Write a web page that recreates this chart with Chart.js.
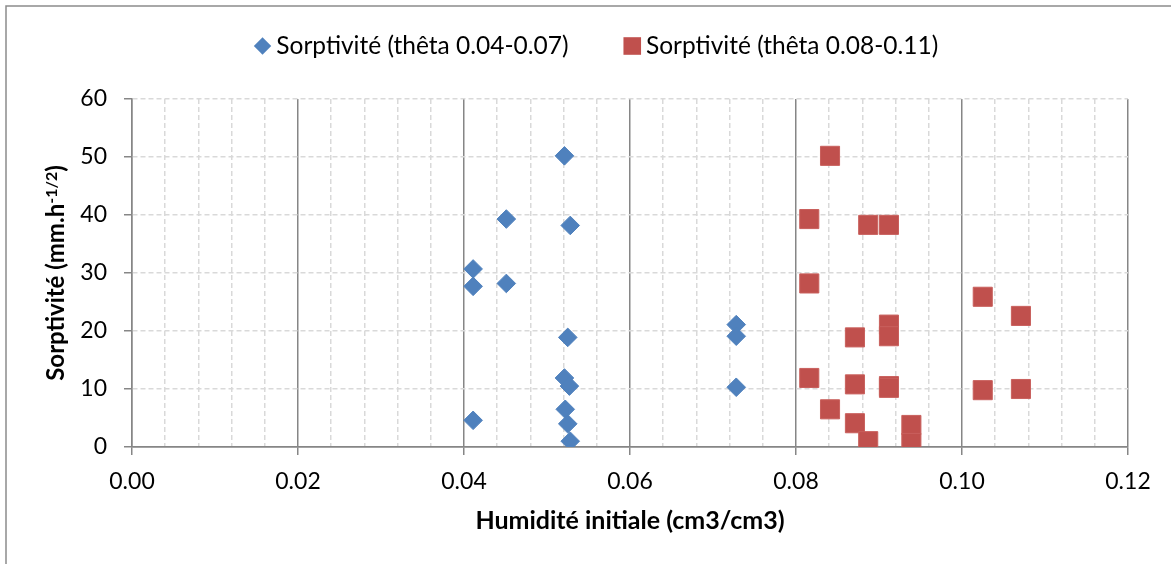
<!DOCTYPE html>
<html>
<head>
<meta charset="utf-8">
<title>Sorptivité</title>
<script src="https://cdn.jsdelivr.net/npm/chart.js@4.4.1/dist/chart.umd.min.js"></script>
<style>
  html, body { margin: 0; padding: 0; background: #fff; }
  canvas { display: block; }
</style>
</head>
<body>
<canvas id="sorptivityChart" width="1171" height="564"></canvas>
<script>
// Humidité initiale (cm3/cm3) and sorptivité (mm.h-1/2), two theta classes
const theta1Humidite = [0.0521, 0.0451, 0.0528, 0.0411, 0.0411, 0.0451, 0.0525, 0.0521, 0.0527, 0.0522, 0.0525, 0.0528, 0.0411, 0.0728, 0.0728, 0.0728];
const theta1Sorptivite = [50.2, 39.3, 38.2, 30.7, 27.7, 28.2, 18.9, 11.9, 10.5, 6.5, 4.0, 1.0, 4.6, 21.1, 19.1, 10.3];

const theta2Humidite = [0.0841, 0.0816, 0.0887, 0.0912, 0.0816, 0.1025, 0.1071, 0.0912, 0.0912, 0.0871, 0.0816, 0.0871, 0.0912, 0.0912, 0.1025, 0.1071, 0.0841, 0.0871, 0.0887, 0.0939, 0.0939];
const theta2Sorptivite = [50.2, 39.3, 38.3, 38.3, 28.2, 25.9, 22.6, 21.1, 19.1, 18.9, 11.9, 10.8, 10.5, 10.2, 9.8, 10.0, 6.5, 4.1, 1.0, 3.8, 0.7];

const seriesLabels = ['Sorptivité (thêta 0.04-0.07)', 'Sorptivité (thêta 0.08-0.11)'];
const xTickLabels = ['0.00', '0.02', '0.04', '0.06', '0.08', '0.10', '0.12'];
const yTickLabels = ['0', '10', '20', '30', '40', '50', '60'];

const axisGray = '#868686';
const dashGray = '#d9d9d9';
const FONT = 'Lato, "Open Sans", sans-serif';

Chart.defaults.font.family = FONT;
Chart.defaults.color = '#000';

const toPoints = (xs, ys) => xs.map((x, i) => ({ x: x, y: ys[i] }));
const isMajorX = v => Math.abs(v / 0.02 - Math.round(v / 0.02)) < 1e-6;

// outer frame (top and left edges only)
const frame = {
  id: 'frame',
  beforeDraw(chart) {
    const ctx = chart.ctx;
    ctx.save();
    ctx.strokeStyle = '#8c8c8c';
    ctx.lineWidth = 1.5;
    ctx.beginPath();
    ctx.moveTo(6, chart.height);
    ctx.lineTo(6, 6);
    ctx.lineTo(chart.width, 6);
    ctx.stroke();
    ctx.restore();
  }
};

// legend row with diamond / square markers
const legendRow = {
  id: 'legendRow',
  afterDraw(chart) {
    const ctx = chart.ctx;
    const markerW = 17.5, gap = 5, spacing = 55, cy = 46;
    ctx.save();
    ctx.font = '24.5px ' + FONT;
    ctx.textBaseline = 'middle';
    const items = chart.data.datasets.map(ds => ({ ds: ds, w: ctx.measureText(ds.label).width }));
    const total = items.reduce((s, it) => s + markerW + gap + it.w, 0) + spacing * (items.length - 1);
    let x = 596 - total / 2;
    items.forEach(it => {
      const cx = x + markerW / 2;
      ctx.fillStyle = it.ds.backgroundColor;
      ctx.beginPath();
      if (it.ds.pointStyle === 'rectRot') {
        const r = 8.7;
        ctx.moveTo(cx, cy - r);
        ctx.lineTo(cx + r, cy);
        ctx.lineTo(cx, cy + r);
        ctx.lineTo(cx - r, cy);
        ctx.closePath();
      } else {
        ctx.rect(cx - 8.8, cy - 8.8, 17.6, 17.6);
      }
      ctx.fill();
      ctx.fillStyle = '#000';
      ctx.fillText(it.ds.label, x + markerW + gap, cy);
      x += markerW + gap + it.w + spacing;
    });
    ctx.restore();
  }
};

// y axis title with superscript exponent
const yTitle = {
  id: 'yTitle',
  afterDraw(chart) {
    const { ctx, chartArea } = chart;
    const main = 'Sorptivité (mm.h', sup = '-1/2', end = ')';
    const bold = 'bold 24px ' + FONT, small = 'bold 16px ' + FONT;
    ctx.save();
    ctx.translate(56, (chartArea.top + chartArea.bottom) / 2);
    ctx.rotate(-Math.PI / 2);
    ctx.fillStyle = '#000';
    ctx.textBaseline = 'alphabetic';
    ctx.font = bold;
    const w1 = ctx.measureText(main).width, w3 = ctx.measureText(end).width;
    ctx.font = small;
    const w2 = ctx.measureText(sup).width;
    let x = -(w1 + w2 + w3) / 2;
    ctx.font = bold;
    ctx.fillText(main, x, 8);
    x += w1;
    ctx.font = small;
    ctx.fillText(sup, x, 1);
    x += w2;
    ctx.font = bold;
    ctx.fillText(end, x, 8);
    ctx.restore();
  }
};

const ctx = document.getElementById('sorptivityChart').getContext('2d');
new Chart(ctx, {
  type: 'scatter',
  data: {
    datasets: [{
      label: seriesLabels[0],
      data: toPoints(theta1Humidite, theta1Sorptivite),
      pointStyle: 'rectRot',
      pointRadius: 9.3,
      backgroundColor: '#4f81bd',
      borderColor: '#4f81bd',
      borderWidth: 1
    }, {
      label: seriesLabels[1],
      data: toPoints(theta2Humidite, theta2Sorptivite),
      pointStyle: 'rect',
      pointRadius: 13.5,
      backgroundColor: '#c0504d',
      borderColor: '#c9605d',
      borderWidth: 1
    }]
  },
  options: {
    responsive: false,
    animation: false,
    events: [],
    layout: { padding: { top: 99, right: 43, bottom: 0, left: 0 } },
    plugins: {
      legend: { display: false },
      tooltip: { enabled: false }
    },
    scales: {
      x: {
        type: 'linear',
        min: 0,
        max: 0.12,
        afterFit: s => { s.height = 117; },
        ticks: {
          stepSize: 0.004,
          autoSkip: false,
          maxRotation: 0,
          padding: 13,
          font: { size: 23 },
          callback: v => isMajorX(v) ? xTickLabels[Math.round(v / 0.02)] : ''
        },
        grid: {
          color: c => (c.tick && !isMajorX(c.tick.value)) ? dashGray : axisGray,
          tickColor: c => (c.tick && !isMajorX(c.tick.value)) ? 'rgba(0,0,0,0)' : axisGray,
          lineWidth: 1.5,
          tickWidth: 1.5,
          tickLength: 8
        },
        border: {
          color: axisGray,
          width: 1.5,
          dash: c => (c.tick && !isMajorX(c.tick.value)) ? [5, 3] : []
        },
        title: {
          display: true,
          text: 'Humidité initiale (cm3/cm3)',
          font: { size: 25, weight: 'bold' },
          padding: { top: 0, bottom: 28 }
        }
      },
      y: {
        min: 0,
        max: 60,
        afterFit: s => { s.width = 132; },
        ticks: {
          stepSize: 10,
          padding: 17,
          font: { size: 23 },
          callback: v => yTickLabels[Math.round(v / 10)]
        },
        grid: {
          color: c => (c.tick && c.tick.value !== 0) ? dashGray : axisGray,
          tickColor: axisGray,
          lineWidth: 1.5,
          tickWidth: 1.5,
          tickLength: 8
        },
        border: {
          color: axisGray,
          width: 1.5,
          dash: c => (c.tick && c.tick.value !== 0) ? [5, 3] : []
        }
      }
    }
  },
  plugins: [frame, legendRow, yTitle]
});
</script>
</body>
</html>
